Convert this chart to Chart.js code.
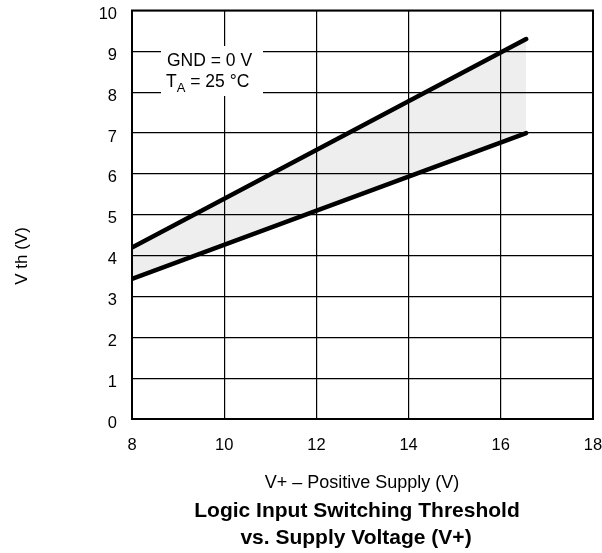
<!DOCTYPE html>
<html>
<head>
<meta charset="utf-8">
<script src="https://cdn.jsdelivr.net/npm/chart.js@4.4.1/dist/chart.umd.min.js"></script>
<style>
	body { margin: 0; background: #fff; }
	canvas { display: block; }
</style>
</head>
<body>
<canvas id="canvas" width="602" height="553"></canvas>
<script>
var supplyV = [8, 16.55];
var vthLow = [3.43, 7.0];
var vthHigh = [4.2, 9.3];
var xTitle = 'V+ \u2013 Positive Supply (V)';
var yTitle = 'V th (V)';
var chartTitle = ['Logic Input Switching Threshold', 'vs. Supply Voltage (V+)'];
var noteLines = ['GND = 0 V', 'T|A| = 25 \u00b0C'];

var FONT = '"Liberation Sans", Arial, Helvetica, sans-serif';

function points(ys) {
	return supplyV.map(function(x, i) { return { x: x, y: ys[i] }; });
}

var textPlugin = {
	id: 'texts',
	afterDraw: function(chart) {
		var ctx = chart.ctx;
		var a = chart.chartArea;
		ctx.save();
		// frame
		ctx.strokeStyle = '#000';
		ctx.lineWidth = 2;
		ctx.strokeRect(a.left, a.top, a.right - a.left, a.bottom - a.top);

		// note box
		ctx.fillStyle = '#fff';
		ctx.fillRect(161, 46, 102, 50);
		ctx.fillStyle = '#000';
		ctx.textBaseline = 'alphabetic';
		ctx.textAlign = 'left';
		ctx.font = '17.5px ' + FONT;
		ctx.fillText(noteLines[0], 167, 66);
		var parts = noteLines[1].split('|');
		var x = 166;
		ctx.fillText(parts[0], x, 87);
		x += ctx.measureText(parts[0]).width;
		ctx.font = '13px ' + FONT;
		ctx.fillText(parts[1], x, 92);
		x += ctx.measureText(parts[1]).width;
		ctx.font = '17.5px ' + FONT;
		ctx.fillText(parts[2], x, 87);

		// axis titles
		ctx.textAlign = 'center';
		ctx.textBaseline = 'middle';
		ctx.font = '18px ' + FONT;
		ctx.fillText(xTitle, 362, 483);
		ctx.save();
		ctx.translate(22, 256);
		ctx.rotate(-Math.PI / 2);
		ctx.font = '17px ' + FONT;
		ctx.fillText(yTitle, 0, 0);
		ctx.restore();

		// chart title
		ctx.font = 'bold 21px ' + FONT;
		ctx.fillText(chartTitle[0], 357, 511);
		ctx.fillText(chartTitle[1], 356, 538);
		ctx.restore();
	}
};

var config = {
	type: 'scatter',
	data: {
		datasets: [{
			label: 'low',
			data: points(vthLow),
			showLine: true,
			borderColor: '#000',
			borderWidth: 4.5,
			borderCapStyle: 'round',
			pointRadius: 0,
			fill: false
		}, {
			label: 'high',
			data: points(vthHigh),
			showLine: true,
			borderColor: '#000',
			borderWidth: 4.5,
			borderCapStyle: 'round',
			pointRadius: 0,
			fill: '-1',
			backgroundColor: 'rgba(0,0,0,0.065)'
		}]
	},
	options: {
		responsive: false,
		animation: false,
		devicePixelRatio: 1,
		layout: { padding: { left: 0, right: 9, top: 10.5, bottom: 0 } },
		plugins: {
			legend: { display: false },
			title: { display: false },
			tooltip: { enabled: false }
		},
		scales: {
			x: {
				type: 'linear',
				min: 8,
				max: 18,
				afterFit: function(scale) {
					scale.height = 134;
					scale.paddingLeft = 0;
					scale.paddingRight = 0;
				},
				ticks: {
					stepSize: 2,
					padding: 17,
					labelOffset: 0,
					color: '#000',
					font: { family: FONT, size: 16.5 }
				},
				grid: { color: '#000', lineWidth: 1.2, drawTicks: false },
				border: { display: false }
			},
			y: {
				type: 'linear',
				min: 0,
				max: 10,
				afterFit: function(scale) {
					scale.width = 132;
					scale.paddingTop = 0;
					scale.paddingBottom = 0;
				},
				ticks: {
					stepSize: 1,
					padding: 15,
					labelOffset: 4,
					color: '#000',
					font: { family: FONT, size: 16.5 }
				},
				grid: { color: '#000', lineWidth: 1.2, drawTicks: false },
				border: { display: false }
			}
		}
	},
	plugins: [textPlugin]
};

window.onload = function() {
	window.myChart = new Chart(document.getElementById('canvas'), config);
};
</script>
</body>
</html>
